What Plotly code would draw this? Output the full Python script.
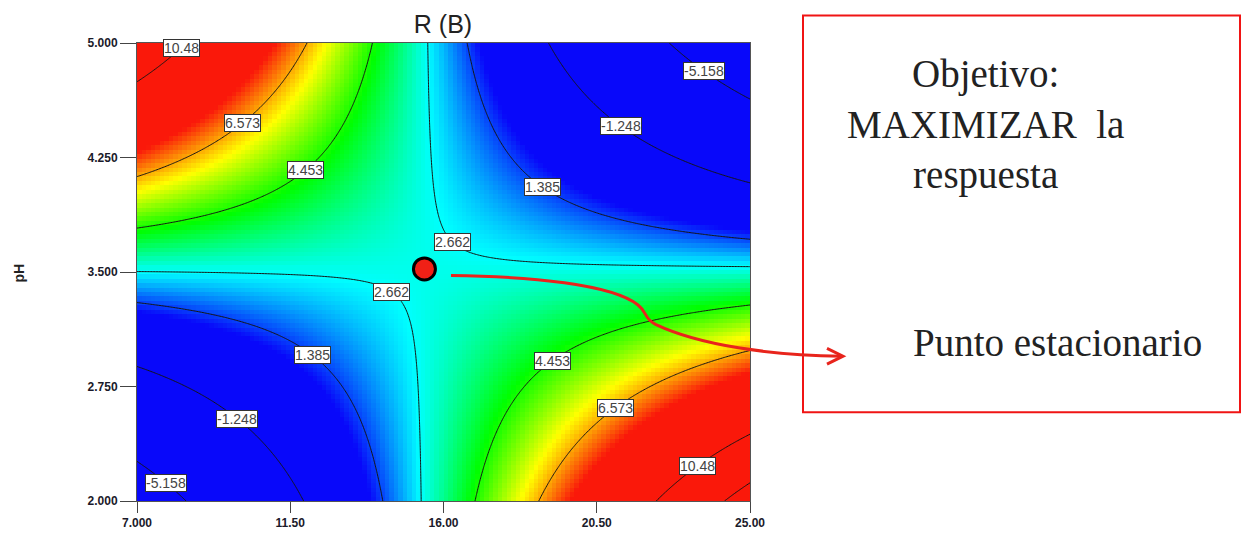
import numpy as np
import plotly.graph_objects as go

# ---- factor ranges (actual units) ----
x_range = [7.0, 25.0]        # factor A
ph_range = [2.0, 5.0]        # factor B: pH

x_tickvals = [7.0, 11.5, 16.0, 20.5, 25.0]
x_ticktext = ["7.000", "11.50", "16.00", "20.50", "25.00"]
y_tickvals = [2.0, 2.75, 3.5, 4.25, 5.0]
y_ticktext = ["2.000", "2.750", "3.500", "4.250", "5.000"]

# ---- fitted response-surface model for R, coded units ----
# R = b0 + bA*A + bB*B + bAB*A*B
b0 = 2.778
bA = 0.134
bB = -0.626
bAB = -10.06

# ---- contour levels ----
contour_levels = [10.48, 6.573, 4.453, 2.662, 1.385, -1.248, -5.158, 12.75]

# contour labels: level text and the A value where the tag sits
label_text = ["10.48", "6.573", "4.453", "2.662", "2.662", "1.385", "-1.248", "-5.158",
              "1.385", "-1.248", "-5.158", "4.453", "6.573", "10.48"]
label_x = [8.3, 10.1, 11.94, 16.26, 14.47, 18.9, 21.2, 23.65,
           12.15, 9.94, 7.85, 19.2, 21.06, 23.47]

# colour ramp for the response
z_min, z_max = 1.0, 7.6
ramp = [[0.0, "rgb(8,8,250)"], [0.25, "rgb(0,255,255)"], [0.5, "rgb(0,255,0)"],
        [0.75, "rgb(255,255,0)"], [1.0, "rgb(250,24,10)"]]

FONT = "Liberation Sans, Arial, sans-serif"
SERIF = "Liberation Serif, Times New Roman, serif"


def coded_a(x):
    return (x - (x_range[0] + x_range[1]) / 2) / ((x_range[1] - x_range[0]) / 2)


def coded_b(y):
    return (y - (ph_range[0] + ph_range[1]) / 2) / ((ph_range[1] - ph_range[0]) / 2)


def model(x, y):
    a, b = coded_a(x), coded_b(y)
    return b0 + bA * a + bB * b + bAB * a * b


def contour_y(level, x):
    # R is linear in B for fixed A, so solve directly
    a = coded_a(x)
    b = (level - b0 - bA * a) / (bB + bAB * a)
    return (ph_range[0] + ph_range[1]) / 2 + b * (ph_range[1] - ph_range[0]) / 2


# coarse cells for the shaded map
nx, ny = 136, 103
dx = (x_range[1] - x_range[0]) / nx
dy = (ph_range[1] - ph_range[0]) / ny
xc = x_range[0] + dx * (np.arange(nx) + 0.5)
yc = ph_range[0] + dy * (np.arange(ny) + 0.5)
Xc, Yc = np.meshgrid(xc, yc)
Zc = model(Xc, Yc)

# fine grid for the contour lines
xf = np.linspace(x_range[0], x_range[1], 400)
yf = np.linspace(ph_range[0], ph_range[1], 300)
Xf, Yf = np.meshgrid(xf, yf)
Zf = model(Xf, Yf)

fig = go.Figure()
fig.add_trace(go.Heatmap(x=xc, y=yc, z=Zc, colorscale=ramp, zmin=z_min, zmax=z_max,
                         zsmooth=False, showscale=False, hoverinfo="skip"))

for lv in contour_levels:
    fig.add_trace(go.Contour(
        x=xf, y=yf, z=Zf, autocontour=False,
        contours=dict(start=lv, end=lv, size=1, coloring="none", showlabels=False),
        line=dict(color="#151515", width=1), showscale=False, hoverinfo="skip"))

# stationary point from the model gradient
a_s = -bB / bAB
b_s = -bA / bAB
x_s = (x_range[0] + x_range[1]) / 2 + a_s * (x_range[1] - x_range[0]) / 2
y_s = (ph_range[0] + ph_range[1]) / 2 + b_s * (ph_range[1] - ph_range[0]) / 2
fig.add_trace(go.Scatter(x=[x_s], y=[y_s], mode="markers",
                         marker=dict(size=22, color="rgb(240,32,22)",
                                     line=dict(color="black", width=3)),
                         hoverinfo="skip", showlegend=False))

annotations = []
for txt, lx in zip(label_text, label_x):
    annotations.append(dict(
        x=lx, y=contour_y(float(txt), lx), xref="x", yref="y", text=txt,
        xanchor="center", yanchor="middle",
        showarrow=False, font=dict(family=FONT, size=14, color="#444"),
        bgcolor="white", bordercolor="#333", borderwidth=1, borderpad=0))

# page geometry (pixels)
W, H = 1242, 542
L_M, R_M, T_M, B_M = 137, 492, 43, 34
PW, PH = W - L_M - R_M, H - T_M - B_M


def px(xp):
    return (xp - L_M) / PW


def py(yp):
    return (H - B_M - yp) / PH


def note(text, xp, yp, **kw):
    return dict(x=px(xp), y=py(yp), xref="paper", yref="paper", text=text,
                xanchor="center", yanchor="middle", showarrow=False, **kw)


annotations.append(note("<b>pH</b>", 19, 277, textangle=-90,
                        font=dict(family=FONT, size=14, color="#222")))
annotations.append(note("Objetivo:<br>MAXIMIZAR\u00a0 la<br>respuesta", 985, 126,
                        align="center", font=dict(family=SERIF, size=39, color="#222")))
annotations.append(note("Punto estacionario", 1057, 347,
                        font=dict(family=SERIF, size=39, color="#222")))


def pth(points):
    return " ".join(f"{c} {px(a):.5f},{py(b):.5f}" for c, a, b in points)


arrow_path = pth([("M", 451, 279), ("C", 530, 280), ("", 612, 288), ("", 638, 309),
                  ("C", 648, 317), ("", 643, 322), ("", 656, 329),
                  ("C", 700, 350), ("", 770, 360), ("", 842, 361)])
head_path = pth([("M", 827, 353), ("L", 843, 361), ("L", 827, 369)])

shapes = [
    dict(type="rect", xref="paper", yref="paper", x0=px(803), x1=px(1240),
         y0=py(418), y1=py(15), line=dict(color="rgb(240,20,20)", width=2)),
    dict(type="path", xref="paper", yref="paper", path=arrow_path,
         line=dict(color="rgb(232,36,28)", width=3)),
    dict(type="path", xref="paper", yref="paper", path=head_path,
         line=dict(color="rgb(232,36,28)", width=3)),
]

axis_common = dict(showgrid=False, zeroline=False, showline=True, mirror=True,
                   linecolor="#555", linewidth=1, ticks="outside", tickcolor="#444",
                   tickfont=dict(family=FONT, size=12, color="#1a1a2a", weight="bold"))

fig.update_layout(
    width=W, height=H, margin=dict(l=L_M, r=R_M, t=T_M, b=B_M),
    paper_bgcolor="white", plot_bgcolor="white", showlegend=False,
    title=dict(text="R (B)", x=px(443), xanchor="center", xref="paper",
               y=1 - 24 / H, yref="container", yanchor="middle",
               font=dict(family=FONT, size=25, color="#222")),
    xaxis=dict(range=x_range, tickvals=x_tickvals, ticktext=x_ticktext, ticklen=11,
               **axis_common),
    yaxis=dict(range=ph_range, tickvals=y_tickvals, ticktext=y_ticktext, ticklen=16,
               **axis_common),
    annotations=annotations, shapes=shapes,
)

fig.write_html("out.html")
